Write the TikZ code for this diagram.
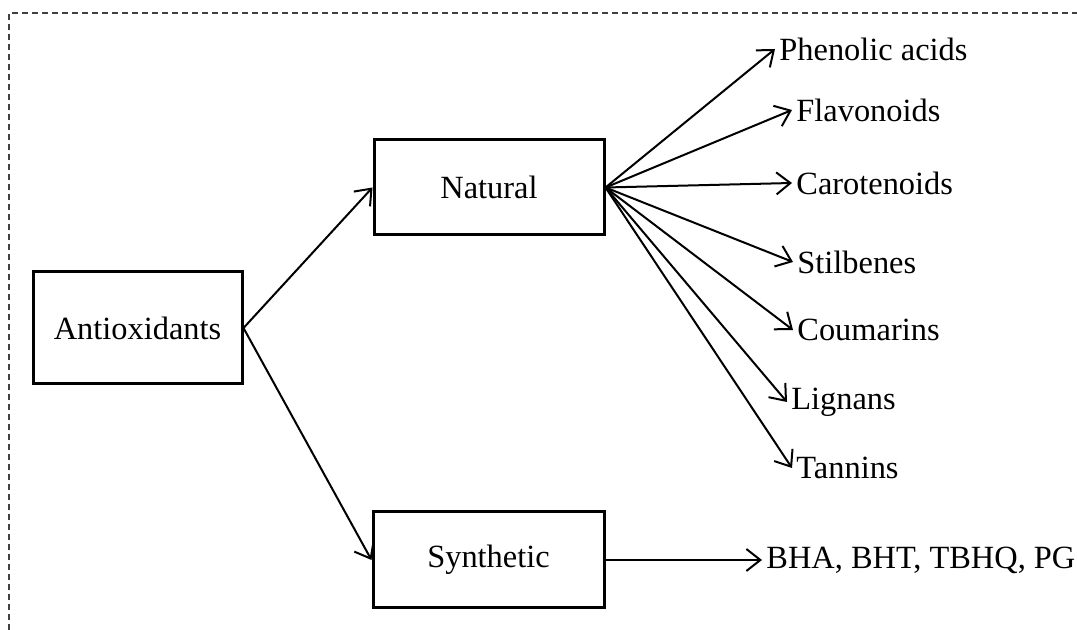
\documentclass[tikz,border=0pt]{standalone}
\usepackage{fontspec}
\setmainfont{Liberation Serif}
\usepackage{tikz}
\usetikzlibrary{arrows.meta, positioning}
\tikzstyle{arrow} = [line width=1pt, -{Straight Barb[length=7pt, width=11pt, line width=1pt]}]
\tikzstyle{box} = [draw, line width=1.5pt, inner sep=0pt, font=\fontsize{16.2}{19}\selectfont]
\tikzstyle{item} = [inner sep=2pt, anchor=west, font=\fontsize{16.2}{19}\selectfont]

\begin{document}
\begin{tikzpicture}[x=0.5pt, y=-0.5pt]
    \useasboundingbox (0,0) rectangle (1077,630);
    \draw[black!75, line width=0.6pt, dash pattern=on 3pt off 2pt] (9,630) -- (9,13) -- (1077,13);
    \node[box, minimum width=104.5pt, minimum height=56pt] (anti) at (137.5,328) {Antioxidants};
    \node[box, minimum width=115pt, minimum height=47.5pt] (nat) at (489,187.5) {Natural};
    \node[box, minimum width=115.5pt, minimum height=48pt] (syn) at (488.5,560) {Synthetic};
    \foreach \n/\t/\x/\y in {phen/Phenolic acids/775/49, flav/Flavonoids/792/110,
        caro/Carotenoids/792/183, stil/Stilbenes/793/262, coum/Coumarins/793/330,
        lign/Lignans/787/402, tann/Tannins/792/468}
      \node[item] (\n) at (\x,\y) {\t};
    \node[item] (bha) at (762,560) {BHA, BHT, TBHQ, PG};
    \draw[arrow] (anti.east) -- (nat.west);
    \draw[arrow] (anti.east) -- (syn.west);
    \foreach \n in {phen,flav,caro,stil,coum,lign,tann}
      \draw[arrow] (nat.east) -- (\n.west);
    \draw[arrow] (syn.east) -- (bha.west);
\end{tikzpicture}
\end{document}
